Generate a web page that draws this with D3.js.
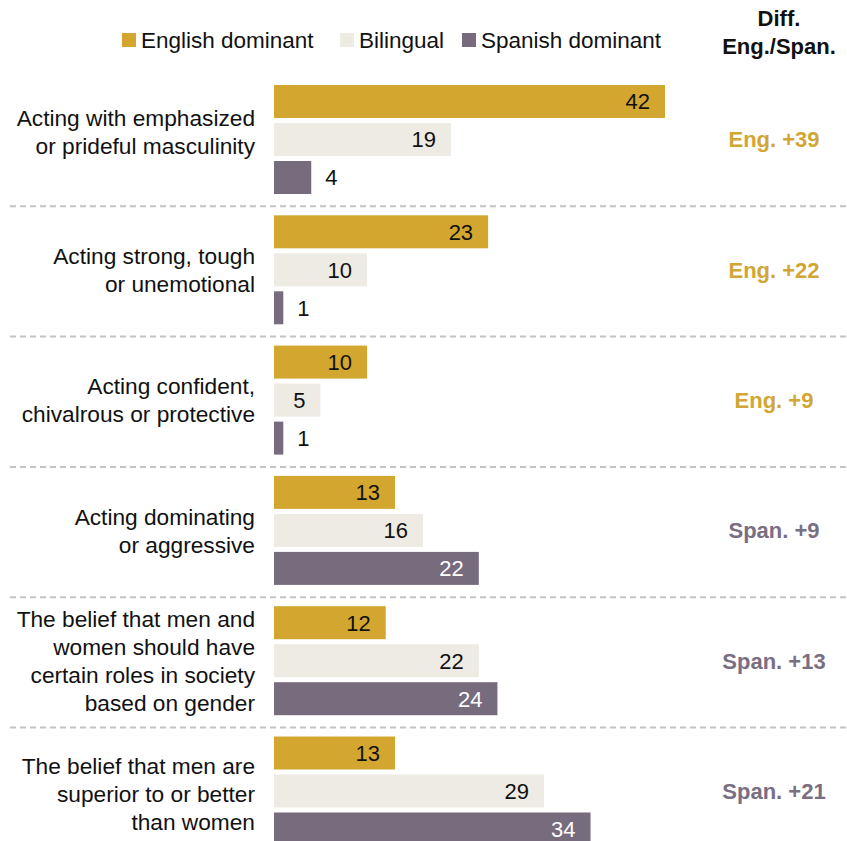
<!DOCTYPE html>
<html>
<head>
<meta charset="utf-8">
<script src="https://cdn.jsdelivr.net/npm/d3@7"></script>
<style>
  html, body { margin: 0; padding: 0; background: #fff; }
  svg { display: block; font-family: "Liberation Sans", Arial, sans-serif; }
</style>
</head>
<body>
<svg id="chart" width="847" height="841"></svg>
<script>
// Categories (label lines) and values for each language group
const categories = [
  ["Acting with emphasized", "or prideful masculinity"],
  ["Acting strong, tough", "or unemotional"],
  ["Acting confident,", "chivalrous or protective"],
  ["Acting dominating", "or aggressive"],
  ["The belief that men and", "women should have", "certain roles in society", "based on gender"],
  ["The belief that men are", "superior to or better", "than women"]
];
const seriesNames = ["English dominant", "Bilingual", "Spanish dominant"];
const englishDominant = [42, 23, 10, 13, 12, 13];
const bilingual = [19, 10, 5, 16, 22, 29];
const spanishDominant = [4, 1, 1, 22, 24, 34];
const diffSide = ["Eng.", "Eng.", "Eng.", "Span.", "Span.", "Span."];
const diffValue = [39, 22, 9, 9, 13, 21];

const colors = { "English dominant": "#D3A72F", "Bilingual": "#EDEBE4", "Spanish dominant": "#776B7E" };
const diffColors = { "Eng.": "#D1A634", "Span.": "#7A6E82" };
const seriesValues = [englishDominant, bilingual, spanishDominant];

const svg = d3.select("#chart");
const keys = categories.map((c, i) => i);

const x = d3.scaleLinear().domain([0, 42]).range([274, 665]);
const y = d3.scaleBand().domain(keys).range([76, 76 + 6 * 130.3]);
const yInner = d3.scaleBand().domain(seriesNames).range([9, 118]).paddingInner(5 / 38);

// Dashed separators between groups
svg.append("g").selectAll("line")
  .data(keys.slice(1))
  .join("line")
  .attr("x1", 10).attr("x2", 847)
  .attr("y1", d => y(d)).attr("y2", d => y(d))
  .attr("stroke", "#C4C4C4")
  .attr("stroke-width", 2)
  .attr("stroke-dasharray", "6,4");

// Bars
const groups = svg.append("g").selectAll("g")
  .data(keys)
  .join("g")
  .attr("transform", d => `translate(0,${y(d)})`);

const barData = i => seriesNames.map((s, j) => ({ series: s, value: seriesValues[j][i] }));

groups.selectAll("rect")
  .data(d => barData(d))
  .join("rect")
  .attr("x", x(0))
  .attr("y", d => yInner(d.series))
  .attr("width", d => x(d.value) - x(0))
  .attr("height", yInner.bandwidth())
  .attr("fill", d => colors[d.series]);

// Value labels: inside the bar end when it fits, otherwise just past it
groups.selectAll("text.val")
  .data(d => barData(d))
  .join("text")
  .attr("class", "val")
  .attr("x", d => d.value >= 5 ? x(d.value) - 15 : x(d.value) + 14)
  .attr("y", d => yInner(d.series) + yInner.bandwidth() / 2)
  .attr("dy", "0.36em")
  .attr("text-anchor", d => d.value >= 5 ? "end" : "start")
  .attr("font-size", 22)
  .attr("fill", d => (d.value >= 5 && d.series === "Spanish dominant") ? "#fff" : "#111")
  .text(d => d.value);

// Category labels (the first one sits a little higher in its group)
const labelShift = [-8, 0, 0, 0, 0, 3];
const lineH = 28;
groups.append("text")
  .attr("text-anchor", "end")
  .attr("font-size", 22.7)
  .attr("fill", "#111")
  .each(function(d) {
    const lines = categories[d];
    const mid = 9 + 109 / 2 + labelShift[d];
    const t = d3.select(this);
    lines.forEach((ln, k) => {
      t.append("tspan")
        .attr("x", 255)
        .attr("y", mid + (k - (lines.length - 1) / 2) * lineH)
        .attr("dy", "0.36em")
        .text(ln);
    });
  });

// Difference column
groups.append("text")
  .attr("x", 774)
  .attr("y", 9 + 109 / 2)
  .attr("dy", "0.36em")
  .attr("text-anchor", "middle")
  .attr("font-size", 22)
  .attr("font-weight", "bold")
  .attr("fill", d => diffColors[diffSide[d]])
  .text(d => `${diffSide[d]} +${diffValue[d]}`);

svg.append("text")
  .attr("text-anchor", "middle")
  .attr("font-size", 22)
  .attr("font-weight", "bold")
  .attr("fill", "#111")
  .selectAll("tspan")
  .data(["Diff.", "Eng./Span."])
  .join("tspan")
  .attr("x", 779)
  .attr("y", (d, i) => 18 + i * 28)
  .attr("dy", "0.36em")
  .text(d => d);

// Legend
const legendX = [122, 340, 462];
const legend = svg.append("g").selectAll("g")
  .data(seriesNames)
  .join("g")
  .attr("transform", (d, i) => `translate(${legendX[i]},40)`);
legend.append("rect")
  .attr("x", 0).attr("y", -7)
  .attr("width", 14).attr("height", 14)
  .attr("fill", d => colors[d]);
legend.append("text")
  .attr("x", 19)
  .attr("dy", "0.36em")
  .attr("font-size", 22.5)
  .attr("fill", "#111")
  .text(d => d);
</script>
</body>
</html>
